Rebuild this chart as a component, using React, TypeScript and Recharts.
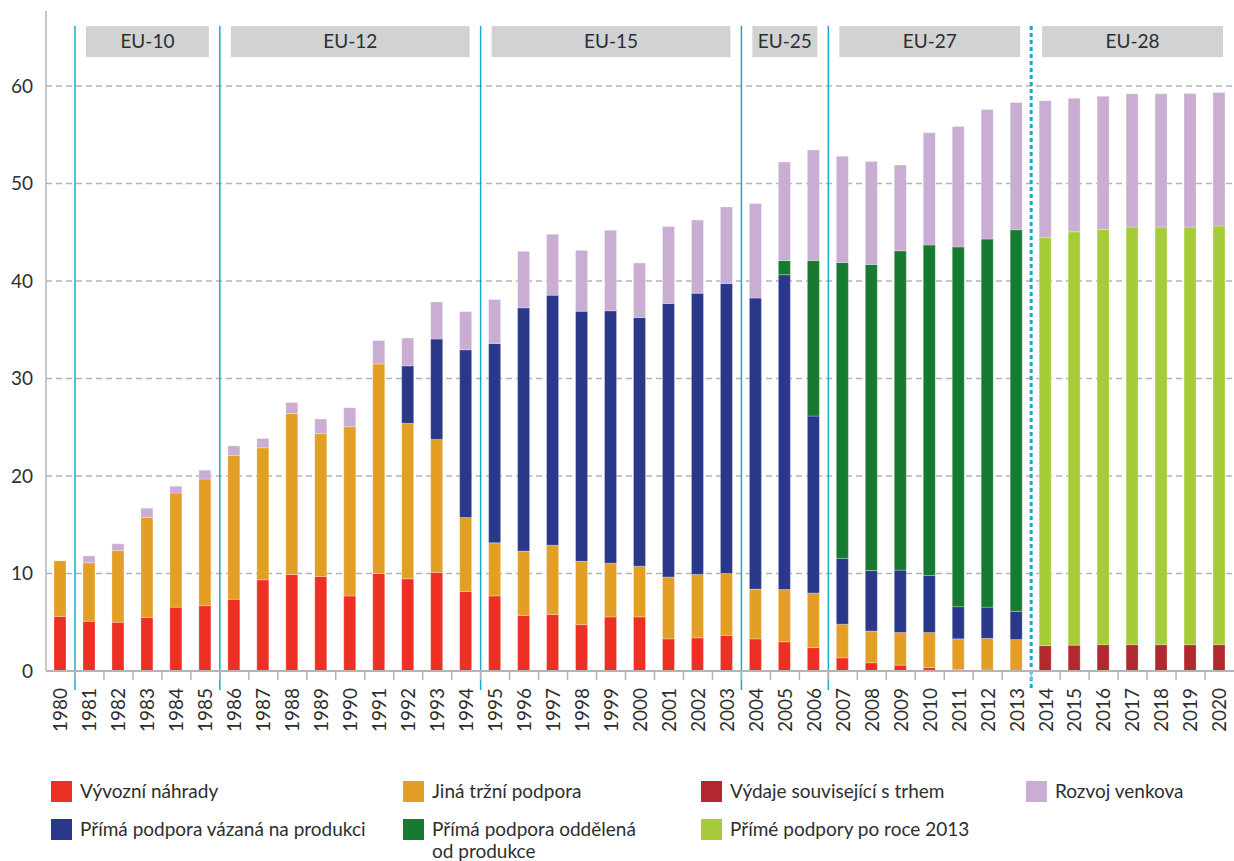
import React from 'react';
import {
  BarChart,
  Bar,
  XAxis,
  YAxis,
  CartesianGrid,
  ReferenceLine,
  ReferenceArea,
} from 'recharts';

const years = [
  '1980', '1981', '1982', '1983', '1984', '1985', '1986', '1987', '1988', '1989',
  '1990', '1991', '1992', '1993', '1994', '1995', '1996', '1997', '1998', '1999',
  '2000', '2001', '2002', '2003', '2004', '2005', '2006', '2007', '2008', '2009',
  '2010', '2011', '2012', '2013', '2014', '2015', '2016', '2017', '2018', '2019', '2020',
];

// billions EUR
const exportRefunds = [
  5.6, 5.1, 5.0, 5.5, 6.55, 6.7, 7.35, 9.35, 9.9, 9.7,
  7.7, 10.0, 9.45, 10.1, 8.15, 7.7, 5.7, 5.8, 4.75, 5.55,
  5.55, 3.3, 3.4, 3.65, 3.3, 3.0, 2.4, 1.35, 0.85, 0.6,
  0.35, 0.15, 0.1, 0.07, 0, 0, 0, 0, 0, 0, 0,
];
const otherMarket = [
  5.7, 6.0, 7.35, 10.25, 11.7, 13.0, 14.75, 13.55, 16.5, 14.65,
  17.35, 21.5, 15.95, 13.65, 7.6, 5.45, 6.6, 7.1, 6.5, 5.5,
  5.2, 6.35, 6.5, 6.35, 5.1, 5.35, 5.6, 3.45, 3.25, 3.35,
  3.6, 3.15, 3.25, 3.15, 0, 0, 0, 0, 0, 0, 0,
];
const coupledAid = [
  0, 0, 0, 0, 0, 0, 0, 0, 0, 0,
  0, 0, 5.9, 10.3, 17.2, 20.45, 24.95, 25.65, 25.65, 25.9,
  25.5, 28.05, 28.85, 29.75, 29.85, 32.3, 18.15, 6.75, 6.2, 6.4,
  5.85, 3.3, 3.2, 2.9, 0, 0, 0, 0, 0, 0, 0,
];
const decoupledAid = [
  0, 0, 0, 0, 0, 0, 0, 0, 0, 0,
  0, 0, 0, 0, 0, 0, 0, 0, 0, 0,
  0, 0, 0, 0, 0, 1.45, 15.95, 30.35, 31.4, 32.75,
  33.9, 36.9, 37.75, 39.15, 0, 0, 0, 0, 0, 0, 0,
];
const marketRelated = [
  0, 0, 0, 0, 0, 0, 0, 0, 0, 0,
  0, 0, 0, 0, 0, 0, 0, 0, 0, 0,
  0, 0, 0, 0, 0, 0, 0, 0, 0, 0,
  0, 0, 0, 0, 2.6, 2.65, 2.7, 2.7, 2.7, 2.7, 2.7,
];
const directPost2013 = [
  0, 0, 0, 0, 0, 0, 0, 0, 0, 0,
  0, 0, 0, 0, 0, 0, 0, 0, 0, 0,
  0, 0, 0, 0, 0, 0, 0, 0, 0, 0,
  0, 0, 0, 0, 41.85, 42.4, 42.6, 42.85, 42.85, 42.85, 42.95,
];
const ruralDev = [
  0, 0.7, 0.7, 0.95, 0.7, 0.9, 1.0, 0.95, 1.15, 1.5,
  1.95, 2.4, 2.85, 3.8, 3.9, 4.5, 5.8, 6.25, 6.25, 8.25,
  5.6, 7.9, 7.5, 7.85, 9.7, 10.1, 11.35, 10.9, 10.55, 8.8,
  11.5, 12.35, 13.3, 13.05, 14.05, 13.7, 13.65, 13.65, 13.65, 13.7, 13.7,
];

const yTicks = [0, 10, 20, 30, 40, 50, 60];

// enlargement periods: first and last year of each
const periods = [
  { label: 'EU-10', from: '1981', to: '1985', dotted: false },
  { label: 'EU-12', from: '1986', to: '1994', dotted: false },
  { label: 'EU-15', from: '1995', to: '2003', dotted: false },
  { label: 'EU-25', from: '2004', to: '2006', dotted: false },
  { label: 'EU-27', from: '2007', to: '2013', dotted: false },
  { label: 'EU-28', from: '2014', to: '2020', dotted: true },
];

const series = [
  { key: 'marketRelated', name: 'Výdaje související s trhem', color: '#B1282F', values: marketRelated },
  { key: 'exportRefunds', name: 'Vývozní náhrady', color: '#EE2F24', values: exportRefunds },
  { key: 'otherMarket', name: 'Jiná tržní podpora', color: '#E39F25', values: otherMarket },
  { key: 'coupledAid', name: 'Přímá podpora vázaná na produkci', color: '#2A388A', values: coupledAid },
  { key: 'decoupledAid', name: 'Přímá podpora oddělená od produkce', color: '#177A31', values: decoupledAid },
  { key: 'directPost2013', name: 'Přímé podpory po roce 2013', color: '#A6CD39', values: directPost2013 },
  { key: 'ruralDev', name: 'Rozvoj venkova', color: '#C9ADD3', values: ruralDev },
];

// legend reading order, row by row
const legendOrder = [
  'exportRefunds', 'otherMarket', 'marketRelated', 'ruralDev',
  'coupledAid', 'decoupledAid', 'directPost2013',
];

const data = years.map((year, i) => {
  const row: Record<string, string | number> = { year };
  series.forEach((s) => {
    row[s.key] = s.values[i];
  });
  return row;
});

const WIDTH = 1234;
const HEIGHT = 750;
const Y_AXIS_W = 46;
const STEP = (WIDTH - Y_AXIS_W) / years.length;
const FONT = 'Lato, "Open Sans", sans-serif';
const TEXT = '#2e2e2e';
const AXIS = '#b4b4b4';
const SEP = '#1AA9CC';
const BOX_INSET = 11;
const BOX_TOP = 66.15;
const BOX_BOTTOM = 62.97;
const LINE_BOTTOM = -1.95;

const YearTick = (props: any) => {
  const { x, y, payload, index } = props;
  const bx = x - STEP / 2;
  return (
    <g>
      {index > 0 && (
        <line x1={bx} x2={bx} y1={y} y2={y + 9} stroke={AXIS} strokeWidth={1.5} />
      )}
      <text
        transform={`translate(${x},${y + 17}) rotate(-90)`}
        textAnchor="end"
        dy="0.36em"
        fontSize={19}
        fill={TEXT}
        fontFamily={FONT}
      >
        {payload.value}
      </text>
    </g>
  );
};

// grey period header, inset from the separator lines
const PeriodBox = (props: any) => {
  const { x, y, width, height } = props;
  return (
    <rect
      x={x + BOX_INSET}
      y={y}
      width={Math.max(0, width - 2 * BOX_INSET)}
      height={height}
      fill="#D1D2D4"
    />
  );
};

const ChartLegend = () => {
  const colX = [51, 403, 701, 1026];
  const colW = [300, 230, 300, 200];
  const rowY = [781, 819];
  return (
    <>
      {legendOrder.map((key, i) => {
        const s = series.find((d) => d.key === key)!;
        const col = i < 4 ? i : i - 4;
        const row = i < 4 ? 0 : 1;
        return (
          <div
            key={key}
            style={{ position: 'absolute', left: colX[col], top: rowY[row], display: 'flex' }}
          >
            <div style={{ width: 21, height: 21, background: s.color, flexShrink: 0 }} />
            <div
              style={{
                marginLeft: 8,
                marginTop: -1,
                width: colW[col],
                fontSize: 19,
                lineHeight: '22px',
                color: TEXT,
                fontFamily: FONT,
              }}
            >
              {s.name}
            </div>
          </div>
        );
      })}
    </>
  );
};

export default function App() {
  return (
    <div
      style={{
        position: 'absolute',
        left: 0,
        top: 0,
        width: WIDTH,
        height: 861,
        background: '#fff',
        fontFamily: FONT,
      }}
    >
      <BarChart
        width={WIDTH}
        height={HEIGHT}
        data={data}
        margin={{ top: 11, right: 0, bottom: 0, left: 0 }}
        barCategoryGap={0}
      >
        <CartesianGrid
          horizontal
          vertical={false}
          horizontalValues={yTicks}
          stroke={AXIS}
          strokeWidth={1.5}
          strokeDasharray="6 4"
        />
        <XAxis
          dataKey="year"
          height={79}
          interval={0}
          tickSize={0}
          tickMargin={0}
          tickLine={false}
          tick={<YearTick />}
          axisLine={{ stroke: AXIS, strokeWidth: 2 }}
        />
        <YAxis
          width={Y_AXIS_W}
          domain={[0, 67.7]}
          ticks={yTicks}
          allowDataOverflow
          tickLine={false}
          tickSize={0}
          tickMargin={13}
          axisLine={{ stroke: AXIS, strokeWidth: 1.5 }}
          tick={{ fontSize: 19, fill: TEXT, fontFamily: FONT }}
        />
        {series.map((s) => (
          <Bar
            key={s.key}
            dataKey={s.key}
            name={s.name}
            stackId="cap"
            fill={s.color}
            stroke="#ffffff"
            strokeOpacity={0.45}
            strokeWidth={0.6}
            barSize={12}
            isAnimationActive={false}
          />
        ))}
        {periods.map((p) => (
          <ReferenceArea
            key={p.label}
            x1={p.from}
            x2={p.to}
            y1={BOX_BOTTOM}
            y2={BOX_TOP}
            shape={<PeriodBox />}
            ifOverflow="visible"
            label={{ value: p.label, position: 'center', fontSize: 19, fill: TEXT, fontFamily: FONT }}
          />
        ))}
        {periods.map((p) => (
          <ReferenceLine
            key={`sep-${p.label}`}
            position="start"
            segment={[
              { x: p.from, y: BOX_TOP },
              { x: p.from, y: LINE_BOTTOM },
            ]}
            stroke={SEP}
            strokeWidth={p.dotted ? 3 : 1.5}
            strokeDasharray={p.dotted ? '4 3' : undefined}
            ifOverflow="visible"
          />
        ))}
      </BarChart>
      <ChartLegend />
    </div>
  );
}
